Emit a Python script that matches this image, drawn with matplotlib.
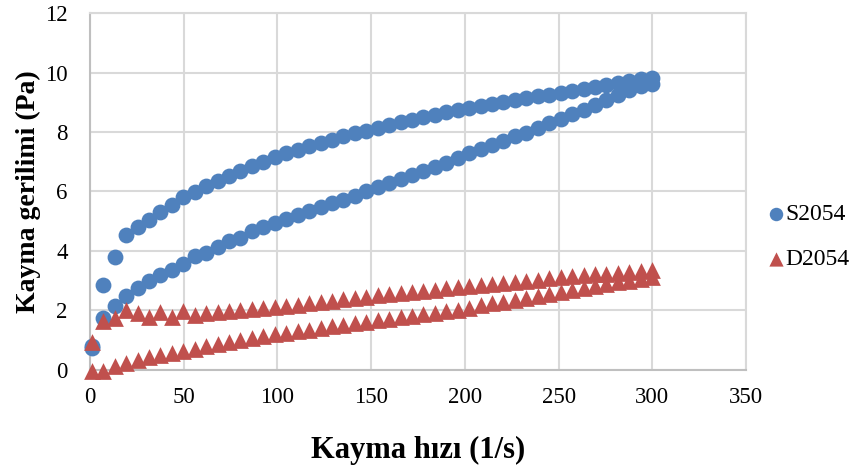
import matplotlib.pyplot as plt

plt.rcParams['font.family'] = ['Liberation Serif', 'DejaVu Serif']

# shear rate (1/s), same steps for both loops
shear_rate = [1, 7.1, 13.2, 19.3, 25.4, 31.5, 37.6, 43.7, 49.8, 55.9,
              62, 68.1, 74.2, 80.3, 86.4, 92.5, 98.6, 104.7, 110.8, 116.9,
              123, 129.1, 135.2, 141.3, 147.4, 153.5, 159.6, 165.7, 171.8, 177.9,
              184, 190.1, 196.2, 202.3, 208.4, 214.5, 220.6, 226.7, 232.8, 238.9,
              245, 251.1, 257.2, 263.3, 269.4, 275.5, 281.6, 287.7, 293.8, 299.9]

# S2054 shear stress (Pa), upper and lower branch
s2054_upper = [0.8, 2.85, 3.8, 4.55, 4.8, 5.05, 5.32, 5.56, 5.8, 5.97,
               6.17, 6.34, 6.51, 6.68, 6.85, 6.99, 7.15, 7.28, 7.4, 7.52,
               7.63, 7.74, 7.85, 7.95, 8.05, 8.15, 8.24, 8.33, 8.42, 8.5,
               8.58, 8.66, 8.73, 8.8, 8.87, 8.94, 9.0, 9.07, 9.13, 9.2,
               9.26, 9.32, 9.38, 9.45, 9.52, 9.58, 9.65, 9.72, 9.77, 9.83]
s2054_lower = [0.75, 1.75, 2.15, 2.48, 2.75, 2.98, 3.2, 3.35, 3.55, 3.82,
               3.92, 4.13, 4.32, 4.45, 4.66, 4.8, 4.93, 5.08, 5.22, 5.33,
               5.48, 5.6, 5.72, 5.85, 6.0, 6.15, 6.28, 6.42, 6.55, 6.7,
               6.82, 6.96, 7.12, 7.28, 7.42, 7.55, 7.7, 7.85, 7.98, 8.12,
               8.3, 8.45, 8.6, 8.75, 8.9, 9.08, 9.25, 9.42, 9.55, 9.6]

# D2054 shear stress (Pa), upper and lower branch
d2054_upper = [0.95, 1.66, 1.75, 2.03, 1.9, 1.78, 1.96, 1.78, 1.99, 1.86,
               1.92, 1.95, 1.99, 2.0, 2.05, 2.08, 2.12, 2.16, 2.2, 2.24,
               2.28, 2.33, 2.38, 2.42, 2.47, 2.51, 2.55, 2.59, 2.63, 2.66,
               2.7, 2.74, 2.78, 2.82, 2.87, 2.9, 2.94, 2.97, 3.0, 3.04,
               3.08, 3.12, 3.15, 3.18, 3.21, 3.24, 3.27, 3.3, 3.33, 3.36]
d2054_lower = [-0.05, -0.05, 0.12, 0.24, 0.33, 0.42, 0.5, 0.56, 0.63, 0.71,
               0.79, 0.87, 0.95, 1.01, 1.08, 1.15, 1.2, 1.25, 1.3, 1.36,
               1.42, 1.47, 1.52, 1.57, 1.62, 1.67, 1.72, 1.77, 1.82, 1.87,
               1.92, 1.97, 2.02, 2.1, 2.17, 2.24, 2.3, 2.36, 2.43, 2.49,
               2.56, 2.63, 2.7, 2.77, 2.83, 2.89, 2.95, 3.0, 3.06, 3.12]

x_ticks = [0, 50, 100, 150, 200, 250, 300, 350]
y_ticks = [0, 2, 4, 6, 8, 10, 12]

BLUE = "#4F81BD"
RED = "#C0504D"
GRID = "#D9D9D9"

fig = plt.figure(figsize=(8.52, 4.73), dpi=100)
ax = fig.add_axes([0.1056, 0.2178, 0.77, 0.7547])

ax.scatter(shear_rate + shear_rate, s2054_upper + s2054_lower, s=130, marker='o',
           color=BLUE, linewidths=0, label="S2054", clip_on=False, zorder=3)
ax.scatter(shear_rate + shear_rate, d2054_upper + d2054_lower, s=145, marker='^',
           color=RED, linewidths=0, label="D2054", clip_on=False, zorder=4)

ax.set_xlim(0, 350)
ax.set_ylim(0, 12)
ax.set_xticks(x_ticks)
ax.set_yticks(y_ticks)
ax.grid(True, color=GRID, linewidth=1.5)
ax.set_axisbelow(True)
for side in ['top', 'right']:
    ax.spines[side].set_color(GRID)
    ax.spines[side].set_linewidth(1.5)
for side in ['left', 'bottom']:
    ax.spines[side].set_color("#BFBFBF")
    ax.spines[side].set_linewidth(1.5)
ax.tick_params(axis='both', length=0, labelsize=16.5)
ax.tick_params(axis='x', pad=12)
ax.tick_params(axis='y', pad=16)

ax.set_xlabel("Kayma hızı (1/s)", fontsize=22, fontweight='bold')
ax.set_ylabel("Kayma gerilimi (Pa)", fontsize=20, fontweight='bold')
ax.xaxis.set_label_coords(0.5, -0.185)
ax.yaxis.set_label_coords(-0.075, 0.5)

ax.legend(loc='center left', bbox_to_anchor=(1.02, 0.373), frameon=False,
          fontsize=17, handlelength=0.6, handletextpad=0.1, labelspacing=1.0,
          borderaxespad=0, markerscale=0.85)

fig.savefig("out.png", dpi=100)
